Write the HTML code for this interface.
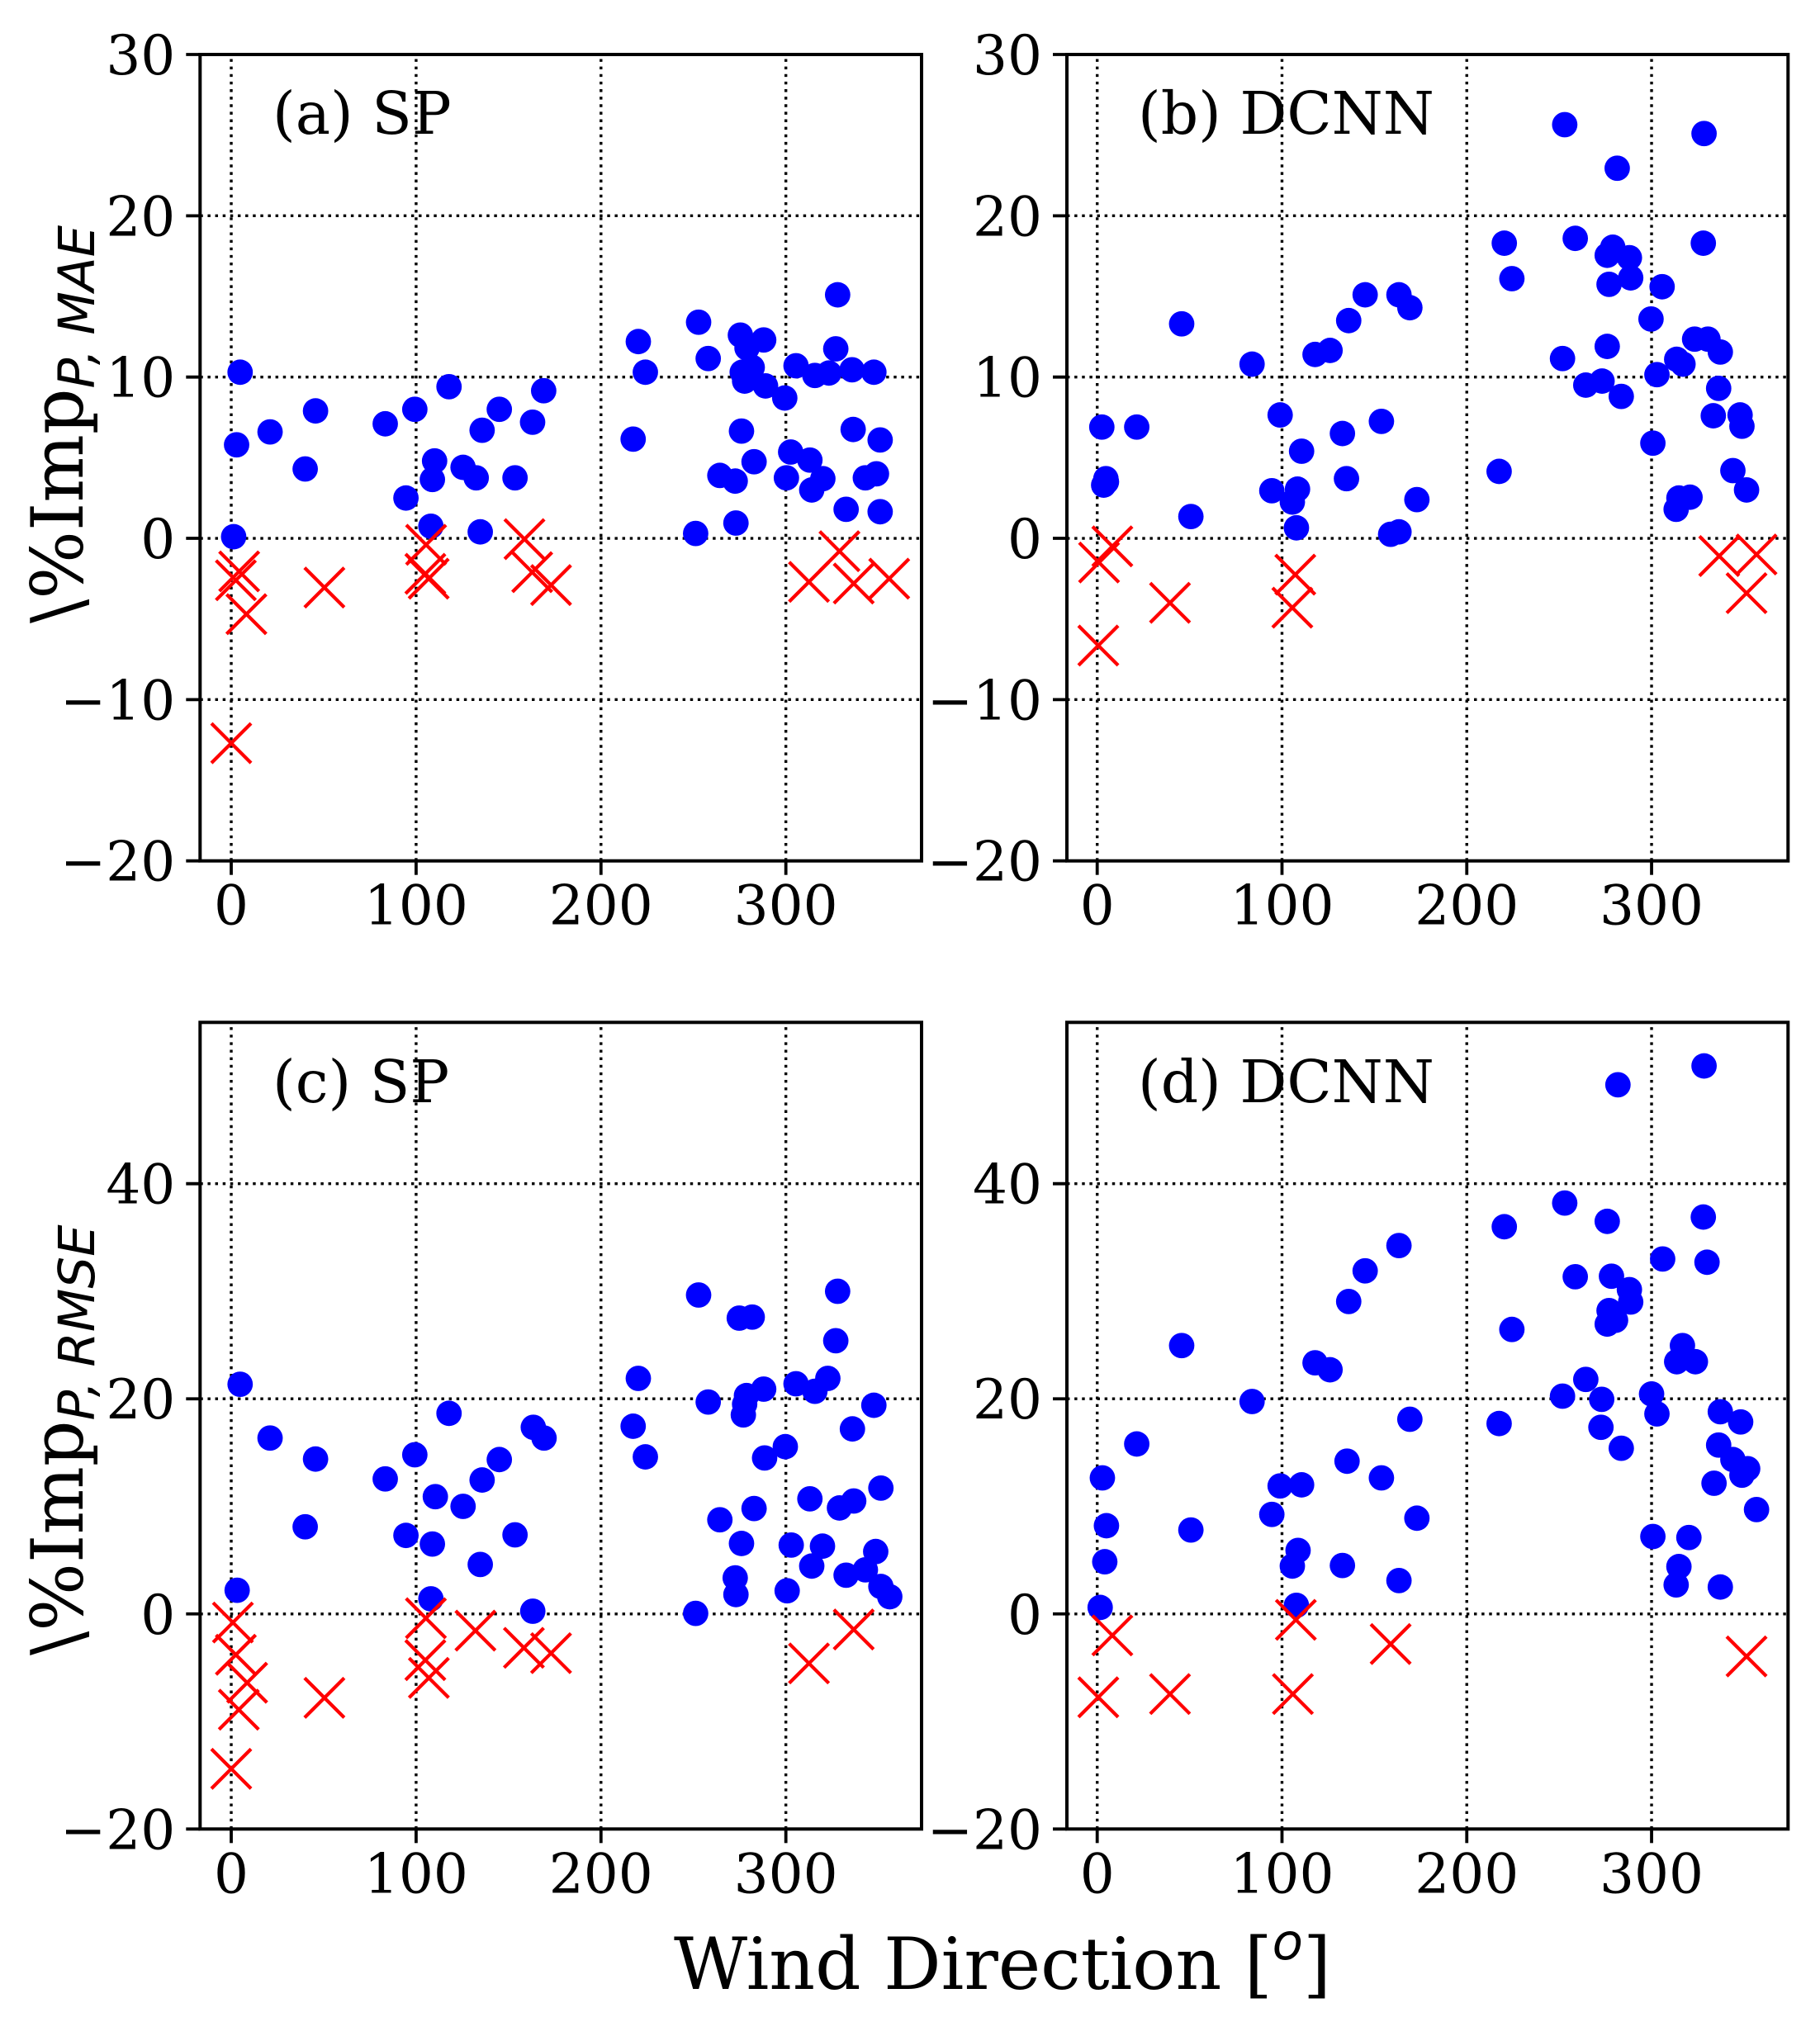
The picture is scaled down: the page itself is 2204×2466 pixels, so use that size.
<!DOCTYPE html>
<html lang="en">
<head>
<meta charset="utf-8">
<title>Wind direction scatter panels</title>
<style>
  html, body { margin: 0; padding: 0; background: #fff; }
  svg { display: block; }
  text { font-family: "DejaVu Serif", "Liberation Serif", serif; fill: #000; }
  .sub { font-family: "DejaVu Sans", "Liberation Sans", sans-serif; font-style: italic; }
</style>
</head>
<body>
<svg id="figure" xmlns="http://www.w3.org/2000/svg" width="2204" height="2466" viewBox="0 0 2204 2466">
  <rect x="0" y="0" width="2204" height="2466" fill="#fff"/>
  <g id="panel-a"></g>
  <g id="panel-b"></g>
  <g id="panel-c"></g>
  <g id="panel-d"></g>
  <text x="330" y="162" font-size="71">(a) SP</text>
  <text x="1378" y="162" font-size="71">(b) DCNN</text>
  <text x="330" y="1335" font-size="71">(c) SP</text>
  <text x="1378" y="1335" font-size="71">(d) DCNN</text>
  <text transform="translate(100 755) rotate(-90)" font-size="87">\%Imp<tspan class="sub" font-size="61" dy="14">P,</tspan><tspan class="sub" font-size="61" dx="17">MAE</tspan></text>
  <text transform="translate(100 2005) rotate(-90)" font-size="87">\%Imp<tspan class="sub" font-size="61" dy="14">P,</tspan><tspan class="sub" font-size="61" dx="17">RMSE</tspan></text>
  <text x="816" y="2409" font-size="86.7">Wind Direction [<tspan class="sub" font-size="61" dy="-36">o</tspan><tspan dy="36">]</tspan></text>
</svg>
<script>
const xTickLabels = [0, 100, 200, 300];
const yTicksMae = [-20, -10, 0, 10, 20, 30];
const yTicksRmse = [-20, 0, 20, 40];

const aBlueDir = [1.3,2.9,4.8,21,40,45.6,83.3,94.5,99.3,108,108.8,110,117.8,125.4,132.5,134.7,135.7,145,153.5,163,169,217.4,220.2,224,251.2,252.8,258,264.3,272.6,273,275.4,276,279,276.4,281.8,277.7,282.8,288,289,299.4,300.3,302.6,305.5,313,314,315.7,320,323.3,327,328,332.6,335.8,336.4,343,349,347.6,351,351];
const aBlueImp = [0.1,5.8,10.3,6.6,4.3,7.9,7.1,2.5,8,0.75,3.65,4.8,9.4,4.4,3.75,0.4,6.7,8,3.75,7.2,9.15,6.15,12.2,10.3,0.3,13.4,11.15,3.9,3.55,0.95,12.6,6.65,11.8,10.3,10.6,9.75,4.75,12.3,9.45,8.7,3.75,5.35,10.7,4.85,3,10.1,3.7,10.25,11.75,15.1,1.8,10.45,6.75,3.75,4,10.3,6.1,1.65];
const aRedDir = [0,2.5,4.3,8.2,50.4,105.4,105,106.8,158.6,162.8,173,312.5,329,336.7,355.9];
const aRedImp = [-12.7,-2.6,-2.05,-4.7,-3.05,-0.4,-2.2,-2.5,-0.05,-2.1,-2.9,-2.7,-0.8,-2.8,-2.5];

const bBlueDir = [2.5,3.5,4.7,5,21.4,45.7,50.7,83.8,94.5,99,105.6,107.8,108.4,110.6,117.9,126,132.7,134.9,136.1,145,153.8,158.8,163.3,163.3,169.2,173,217.5,220.3,224.4,251.8,253,258.7,264.4,273.2,276,277,276,279,281.4,283.6,288,288.7,299.7,300.7,302.9,305.7,313.3,314.8,313.6,317,320.8,323.3,330.5,328.4,328,333.4,336.3,337.2,344,347.9,348.9,351.4];
const bBlueImp = [6.9,3.3,3.7,3.5,6.9,13.3,1.35,10.8,2.95,7.65,2.25,0.65,3.05,5.4,11.4,11.65,6.5,3.7,13.5,15.1,7.25,0.25,0.4,15.1,14.3,2.4,4.15,18.3,16.1,11.15,25.65,18.6,9.5,9.75,11.9,15.75,17.55,18.05,22.95,8.8,17.4,16.15,13.6,5.9,10.15,15.6,1.8,2.5,11.1,10.8,2.55,12.35,12.35,25.1,18.3,7.6,9.3,11.55,4.2,7.65,6.95,3];
const bRedDir = [0.6,1,8.2,39.4,107.2,105.6,336.6,356.8,351.4];
const bRedImp = [-6.65,-1.5,-0.5,-4,-2.25,-4.3,-1.1,-1,-3.4];

const cBlueDir = [3.2,4.8,21,40,45.6,83.3,94.5,99.3,108,108.8,110.4,117.8,125.4,135.7,134.7,145,153.5,163.1,163.4,169.2,217.4,220.2,224,251.2,252.8,258,264.3,272.6,273,274.8,281.8,276,278.7,277.7,277,282.8,288,288.5,299.7,300.7,302.9,305.5,313,314,315.7,319.8,322.7,327,328,329,332.6,336,336.7,343,347.6,348.6,351.4,351.4,356.2];
const cBlueImp = [2.2,21.35,16.35,8.1,14.4,12.55,7.3,14.8,1.4,6.5,10.9,18.65,10,12.45,4.6,14.35,7.35,0.25,17.35,16.35,17.45,21.9,14.6,0.05,29.65,19.7,8.75,3.35,1.8,27.5,27.6,6.55,20.3,19.5,18.5,9.8,20.9,14.5,15.55,2.15,6.4,21.4,10.7,4.45,20.7,6.3,21.9,25.4,30,9.85,3.6,17.2,10.5,4.1,19.4,5.8,11.7,2.55,1.6];
const cRedDir = [0.9,2.5,8.6,4.1,0,50.4,105.3,105,106.9,132.1,158.3,173,312.5,336.7];
const cRedImp = [-0.8,-3.8,-6.4,-8.9,-14.4,-7.8,-0.4,-4.3,-5.95,-1.55,-3.15,-3.65,-4.6,-1.45];

const dBlueDir = [1.6,4.1,5,2.8,21.4,45.7,50.7,83.8,94.5,99,105.6,107.8,108.7,110.6,117.9,126,132.7,135.2,136.1,145,153.8,163.3,163.3,169.2,173,217.5,220.3,224.4,251.8,253,258.7,264.4,272.6,273,276,277,276,280.5,278.3,283.6,281.8,288,288.7,300,300.7,302.9,306,313.3,314.8,313.6,316.7,323.7,320.2,328.4,328,330,333.8,336.3,337.2,337.2,344,348.2,348.9,352,356.8];
const dBlueImp = [0.6,4.85,8.2,12.65,15.8,24.95,7.8,19.75,9.25,11.9,4.45,0.8,5.9,12,23.35,22.7,4.5,14.2,29.05,31.9,12.65,3.1,34.25,18.1,8.9,17.7,36,26.45,20.25,38.2,31.35,21.8,17.35,19.95,36.5,28.2,26.95,27.3,31.4,15.4,49.2,30.15,29,20.45,7.2,18.6,33,2.7,4.4,23.45,24.95,23.45,7.1,50.95,36.9,32.7,12.15,15.7,18.8,2.5,14.35,17.85,12.9,13.5,9.7];
const dRedDir = [0.6,8.2,39.4,107.5,105.9,158.8,351.4];
const dRedImp = [-7.75,-2,-7.45,-0.55,-7.45,-2.8,-3.95];

const SVGNS = 'http://www.w3.org/2000/svg';
const X_SPAN = 390.25;

function makeLine(parent, x1, y1, x2, y2, color, width, dash) {
  const el = document.createElementNS(SVGNS, 'line');
  el.setAttribute('x1', x1);
  el.setAttribute('y1', y1);
  el.setAttribute('x2', x2);
  el.setAttribute('y2', y2);
  el.setAttribute('stroke', color);
  el.setAttribute('stroke-width', width);
  if (dash) el.setAttribute('stroke-dasharray', dash);
  parent.appendChild(el);
  return el;
}

function drawPanel(id, left, right, top, bottom, xMin, yMin, yMax, yTicks, blueX, blueY, redX, redY) {
  const g = document.getElementById(id);
  const xScale = v => left + (v - xMin) / X_SPAN * (right - left);
  const yScale = v => bottom - (v - yMin) / (yMax - yMin) * (bottom - top);

  xTickLabels.forEach(v => {
    const px = xScale(v);
    const grid = makeLine(g, px, bottom, px, top, '#000', 3.4, '3.45 5.68');
    
    
    const tick = makeLine(g, px, bottom, px, bottom + 17, '#000', 3.8);
    
    
    const label = document.createElementNS(SVGNS, 'text');
    label.setAttribute('x', px);
    label.setAttribute('y', bottom + 77);
    label.setAttribute('font-size', '66');
    label.setAttribute('text-anchor', 'middle');
    label.textContent = String(v);
    
    
    g.appendChild(label);
  });

  yTicks.forEach(v => {
    const py = yScale(v);
    if (v !== yMin && v !== yMax) {
      const grid = makeLine(g, left, py, right, py, '#000', 3.4, '3.45 5.68');
      
      
    }
    const tick = makeLine(g, left - 17, py, left, py, '#000', 3.8);
    
    
    const label = document.createElementNS(SVGNS, 'text');
    label.setAttribute('x', left - 30);
    label.setAttribute('y', py + 24);
    label.setAttribute('font-size', '66');
    label.setAttribute('text-anchor', 'end');
    label.textContent = String(v).replace('-', '\u2212');
    
    
    g.appendChild(label);
  });

  blueX.forEach((v, i) => {
    const dot = document.createElementNS(SVGNS, 'circle');
    dot.setAttribute('cx', xScale(v));
    dot.setAttribute('cy', yScale(blueY[i]));
    dot.setAttribute('r', 15.4);
    dot.setAttribute('fill', '#0000ff');
    
    
    g.appendChild(dot);
  });

  const half = 24;
  redX.forEach((v, i) => {
    const cx = xScale(v), cy = yScale(redY[i]);
    const cross = document.createElementNS(SVGNS, 'g');
    
    
    makeLine(cross, cx - half, cy - half, cx + half, cy + half, '#ff0000', 4.2);
    makeLine(cross, cx - half, cy + half, cx + half, cy - half, '#ff0000', 4.2);
    g.appendChild(cross);
  });

  const frame = document.createElementNS(SVGNS, 'rect');
  frame.setAttribute('x', left);
  frame.setAttribute('y', top);
  frame.setAttribute('width', right - left);
  frame.setAttribute('height', bottom - top);
  frame.setAttribute('fill', 'none');
  frame.setAttribute('stroke', '#000');
  frame.setAttribute('stroke-width', 4);
  
  
  g.appendChild(frame);
}

drawPanel('panel-a', 242.3, 1116, 66, 1042.7, -16.85, -20, 30, yTicksMae, aBlueDir, aBlueImp, aRedDir, aRedImp);
drawPanel('panel-b', 1292, 2165.3, 66, 1042.7, -16.4, -20, 30, yTicksMae, bBlueDir, bBlueImp, bRedDir, bRedImp);
drawPanel('panel-c', 242.3, 1116, 1238.3, 2215.3, -16.85, -20, 55, yTicksRmse, cBlueDir, cBlueImp, cRedDir, cRedImp);
drawPanel('panel-d', 1292, 2165.3, 1238.3, 2215.3, -16.4, -20, 55, yTicksRmse, dBlueDir, dBlueImp, dRedDir, dRedImp);
</script>
</body>
</html>
